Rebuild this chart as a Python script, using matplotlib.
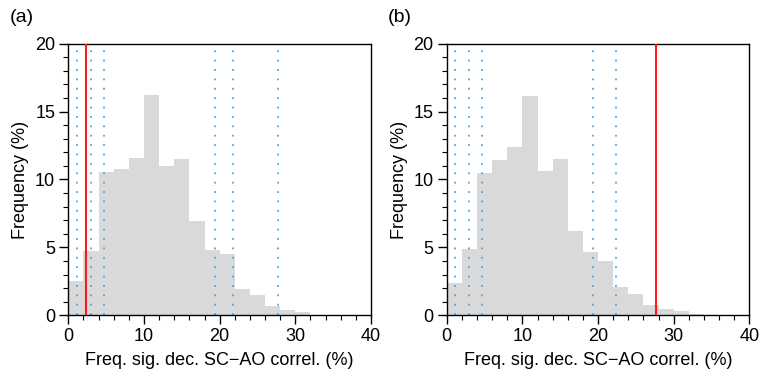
import matplotlib
matplotlib.use("Agg")
import matplotlib.pyplot as plt
import numpy as np
from matplotlib.ticker import MultipleLocator

plt.rcParams['font.family'] = ['Liberation Sans', 'DejaVu Sans']

bin_edges = list(range(0, 36, 2))
freq_a = [2.55, 4.76, 10.55, 10.8, 11.6, 16.2, 11.0, 11.53, 6.94, 4.81, 4.52, 1.96, 1.52, 0.71, 0.39, 0.25, 0.0]
freq_b = [2.38, 4.88, 10.48, 11.44, 12.39, 16.15, 10.63, 11.51, 6.21, 4.69, 4.02, 2.09, 1.57, 0.76, 0.47, 0.32, 0.1]
pct_a = [1.19, 2.95, 4.67, 19.4, 21.7, 27.7]
pct_b = [1.15, 2.91, 4.67, 19.38, 22.33]
obs_a = 2.33
obs_b = 27.67
panel_labels = ['(a)', '(b)']
xlabel = 'Freq. sig. dec. SC\u2212AO correl. (%)'
ylabel = 'Frequency (%)'

fig = plt.figure(figsize=(7.61, 3.78), dpi=100)
lefts = [0.0898, 0.587]
datasets = [(freq_a, pct_a, obs_a), (freq_b, pct_b, obs_b)]

for i, (left, (freq, pcts, obs)) in enumerate(zip(lefts, datasets)):
    ax = fig.add_axes([left, 0.1659, 0.3977, 0.7185])
    ax.bar(bin_edges[:-1], freq, width=2, align='edge', color='#d9d9d9', linewidth=0, zorder=1)
    for p in pcts:
        ax.axvline(p, color='#44a8e4', lw=1.3, linestyle=(0, (1, 4.2)), zorder=2)
    ax.axvline(obs, color='#ff1a1a', lw=1.5, zorder=3)
    ax.set_xlim(0, 40)
    ax.set_ylim(0, 20)
    ax.xaxis.set_major_locator(MultipleLocator(10))
    ax.xaxis.set_minor_locator(MultipleLocator(2))
    ax.yaxis.set_major_locator(MultipleLocator(5))
    ax.yaxis.set_minor_locator(MultipleLocator(1))
    ax.tick_params(which='major', direction='out', length=6.5, width=1, labelsize=13, pad=3)
    ax.tick_params(which='minor', direction='out', length=3.5, width=0.8)
    ax.tick_params(top=False, right=False)
    for s in ax.spines.values():
        s.set_linewidth(1.0)
    ax.set_xlabel(xlabel, fontsize=13, labelpad=5)
    ax.set_ylabel(ylabel, fontsize=13, labelpad=4)
    fig.text(left - 0.077, 0.955, panel_labels[i], fontsize=14, ha='left', va='center')

fig.savefig('out.png', dpi=100)
